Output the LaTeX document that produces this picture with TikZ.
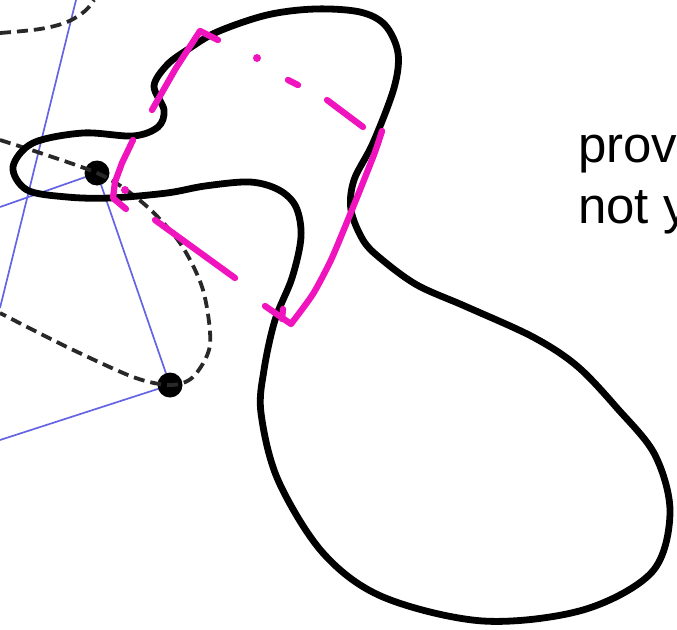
\documentclass[tikz,border=0pt]{standalone}
\usepackage{fontspec}
\setmainfont{Liberation Sans}
\usetikzlibrary{positioning}
\definecolor{PenPink}{RGB}{240, 20, 190}
\definecolor{EdgeBlue}{RGB}{100, 100, 228}
\definecolor{ConicGray}{RGB}{40, 40, 40}

\begin{document}
\begin{tikzpicture}[x=1pt, y=-1pt,
    outline/.style={line width=6.8pt, line join=round},
    conic/.style={ConicGray, line width=3.8pt, dash pattern=on 11pt off 6pt},
    edge/.style={EdgeBlue, line width=1.7pt},
    pen/.style={PenPink, line width=6.3pt, line cap=round, line join=round},
    vertex/.style={circle, fill=black, inner sep=0pt, minimum size=25pt},
    label/.style={anchor=base west, inner sep=0pt, font=\fontsize{51}{61}\selectfont}]
    \useasboundingbox (0,0) rectangle (677,629);

    % Vertices and free ends of the edges
    \node[vertex] (v1) at (97,173) {};
    \node[vertex] (v2) at (170,385) {};
    \coordinate (e1) at (0,207);
    \coordinate (e2) at (0,440);
    \coordinate (e3) at (76,0);
    \coordinate (e4) at (0,308);

    % Blue edges
    \draw[edge] (e1) -- (v1) -- (v2) -- (e2);
    \draw[edge] (e3) -- (e4);

    % Dashed conics
    \draw[conic] plot[smooth, tension=0.6] coordinates {(0,33) (40,29) (67,22) (85,11) (94,0)};
    \draw[conic] plot[smooth] coordinates {(0,140) (97,173) (143,203) (180,243) (203,290) (210,345) (193,377) (170,385) (133,377) (67,347) (0,313)};

    % Closed curve
    \draw[outline] plot[smooth cycle, tension=0.55] coordinates {
        (13,167) (33,143) (83,133) (133,136) (158,127) (164,110) (154,86)
        (167,65) (187,50) (217,32) (267,15) (315,9) (360,12) (385,25)
        (398,53) (394,88) (373,143) (354,180) (351,210) (363,240) (380,258)
        (417,285) (467,307) (533,337) (577,366) (617,408) (655,455) (670,513)
        (652,572) (583,610) (483,621) (383,597) (323,553) (278,480) (261,413)
        (264,370) (275,320) (292,278) (301,237) (296,207) (279,190) (250,182)
        (205,186) (167,193) (110,198) (67,197) (27,190)};

    % Pink strokes
    \draw[pen] (152,110) -- (176,68) -- (200,31) -- (218,40);
    \fill[PenPink] (257,58) circle (4);
    \draw[pen] (288,80) -- (298,85);
    \draw[pen] (327,100) -- (363,127);
    \draw[pen] plot[smooth, tension=0.4] coordinates {(382,131) (375,152) (362,185) (347,222) (331,260) (313,294) (291,324)} -- (265,306);
    \draw[pen] (283,309) -- (282,319);
    \draw[pen] (133,140) -- (122,163) -- (115,182) -- (113,198) -- (126,209);
    \fill[PenPink] (125,190) circle (4);
    \draw[pen] (155,220) -- (235,278);

    % Text
    \node[label] (prov) at (578,162) {prov};
    \node[label] (noty) at (578,223) {not y};
\end{tikzpicture}
\end{document}
